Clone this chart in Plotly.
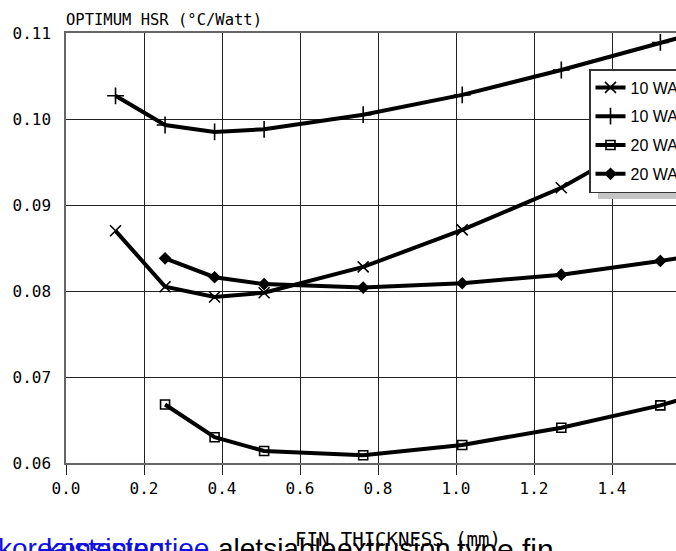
import plotly.graph_objects as go

# ---- data ----
fin_thickness_mm = [0.127, 0.254, 0.381, 0.508, 0.762, 1.016, 1.270, 1.524, 1.778]

hsr_10w_a = [0.0870, 0.0805, 0.0793, 0.0798, 0.0828, 0.0871, 0.0920, 0.0984, 0.1050]
hsr_10w_b = [0.1027, 0.0993, 0.0985, 0.0988, 0.1005, 0.1028, 0.1057, 0.1089, 0.1120]
x_20w = [0.254, 0.381, 0.508, 0.762, 1.016, 1.270, 1.524, 1.778]
hsr_20w_a = [0.0668, 0.0630, 0.0614, 0.0609, 0.0621, 0.0641, 0.0667, 0.0700]
hsr_20w_b = [0.0838, 0.0816, 0.0808, 0.0804, 0.0809, 0.0819, 0.0835, 0.0853]

legend_names = ["10 WATT", "10 WATT", "20 WATT", "20 WATT"]
x_ticks = [0.0, 0.2, 0.4, 0.6, 0.8, 1.0, 1.2, 1.4]
y_ticks = [0.06, 0.07, 0.08, 0.09, 0.10, 0.11]

# ---- figure geometry (pixels) ----
W, H = 676, 551
L, T, B = 66, 33, 88
plot_h = H - T - B
plot_w = W - L


def px_to_paper_x(px):
    return (px - L) / plot_w


def px_to_paper_y(py):
    return (H - B - py) / plot_h


fig = go.Figure()

series = [
    (fin_thickness_mm, hsr_10w_a, "x-thin", 11, legend_names[0]),
    (fin_thickness_mm, hsr_10w_b, "cross-thin", 12, legend_names[1]),
    (x_20w, hsr_20w_a, "square-open", 9, legend_names[2]),
    (x_20w, hsr_20w_b, "diamond", 8, legend_names[3]),
]
for i, (xs, ys, sym, sz, name) in enumerate(series):
    fig.add_trace(go.Scatter(
        x=xs, y=ys, mode="lines+markers", name=name,
        legendgroup=f"g{i}",
        line=dict(color="black", width=4),
        marker=dict(symbol=sym, size=sz, color="black",
                    line=dict(color="black", width=1.6)),
    ))

mono = "DejaVu Sans Mono"
sans = "Liberation Sans"

bottom_texts = [
    ("koreaistening", -4, "#1010e0", 28),
    ("konsistentiee", 44, "#1010e0", 28),
    ("aletsiable", 216, "black", 28),
    ("extrusion", 335, "black", 28),
    ("type fin", 455, "black", 30),
]

annotations = [
    dict(text="OPTIMUM HSR (°C/Watt)", xref="paper", yref="paper",
         x=px_to_paper_x(64), y=px_to_paper_y(20),
         xanchor="left", yanchor="middle", showarrow=False,
         font=dict(family=mono, size=15.5, color="black")),
]
for txt, xpx, col, fs in bottom_texts:
    annotations.append(dict(
        text=txt, xref="paper", yref="paper",
        x=px_to_paper_x(xpx), y=px_to_paper_y(531),
        xanchor="left", yanchor="top", showarrow=False,
        font=dict(family=sans, size=fs, color=col)))
annotations.append(dict(
    text="FIN THICKNESS (mm)", xref="paper", yref="paper",
    x=px_to_paper_x(398), y=px_to_paper_y(539),
    xanchor="center", yanchor="middle", showarrow=False,
    font=dict(family=mono, size=19, color="black")))

fig.update_layout(
    width=W, height=H,
    margin=dict(l=L, r=0, t=T, b=B, autoexpand=False),
    paper_bgcolor="white", plot_bgcolor="white",
    showlegend=True,
    legend=dict(
        x=px_to_paper_x(589), y=px_to_paper_y(69),
        xanchor="left", yanchor="top",
        bgcolor="white", bordercolor="#333", borderwidth=1.5,
        font=dict(family=sans, size=16, color="black"),
        tracegroupgap=5, itemwidth=30,
    ),
    xaxis=dict(
        range=[0, (W - L) / 390.0],
        tickvals=x_ticks, ticktext=[f"{v:.1f}" for v in x_ticks],
        showgrid=True, gridcolor="#222", gridwidth=1,
        zeroline=False,
        showline=True, linecolor="#666", linewidth=1.5, mirror=True,
        ticks="outside", ticklen=10, tickcolor="#222", tickwidth=1,
        tickfont=dict(family=mono, size=16, color="black"),
    ),
    yaxis=dict(
        range=[0.06, 0.11],
        tickvals=y_ticks, ticktext=[f"{v:.2f}" for v in y_ticks],
        showgrid=True, gridcolor="#222", gridwidth=1,
        zeroline=False,
        showline=True, linecolor="#666", linewidth=1.5, mirror=False,
        ticks="", ticklabelstandoff=10,
        tickfont=dict(family=mono, size=16, color="black"),
    ),
    shapes=[
        dict(type="rect", xref="paper", yref="paper", layer="above",
             x0=px_to_paper_x(598), x1=px_to_paper_x(700),
             y0=px_to_paper_y(199), y1=px_to_paper_y(90),
             fillcolor="#c4c4c4", line=dict(width=0)),
    ],
    annotations=annotations,
)

fig.write_html("out.html")
